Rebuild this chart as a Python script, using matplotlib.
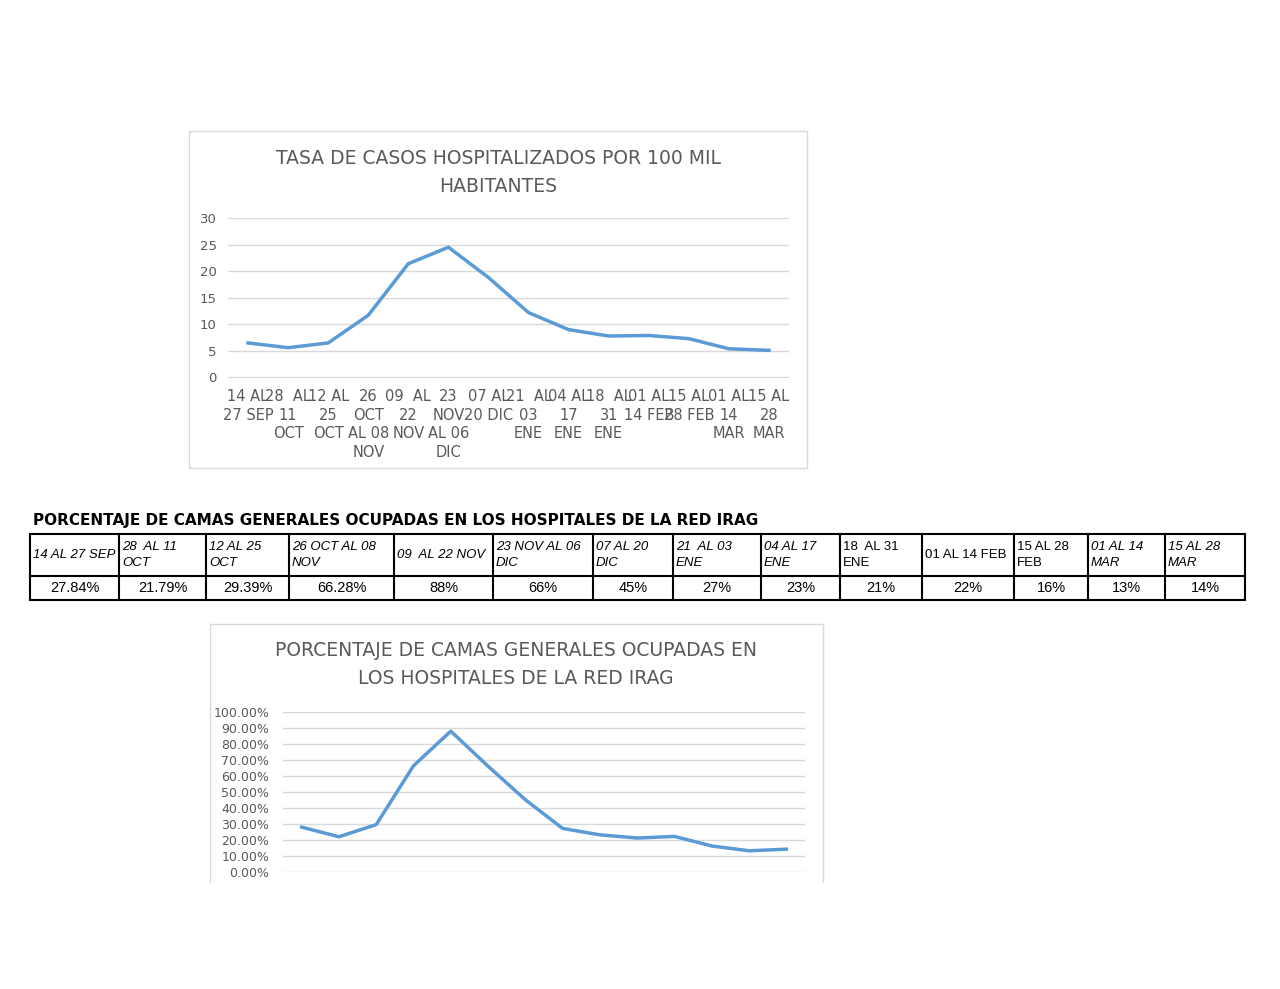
import matplotlib
matplotlib.use("Agg")
import matplotlib.pyplot as plt
from matplotlib.patches import Rectangle

# data
week_labels = ["14 AL\n27 SEP", "28  AL\n11\nOCT", "12 AL\n25\nOCT", "26\nOCT\nAL 08\nNOV",
               "09  AL\n22\nNOV", "23\nNOV\nAL 06\nDIC", "07 AL\n20 DIC", "21  AL\n03\nENE",
               "04 AL\n17\nENE", "18  AL\n31\nENE", "01 AL\n14 FEB", "15 AL\n28 FEB",
               "01 AL\n14\nMAR", "15 AL\n28\nMAR"]
tasa = [6.5, 5.6, 6.5, 11.7, 21.4, 24.5, 18.8, 12.2, 9.0, 7.8, 7.9, 7.3, 5.4, 5.1]
camas_pct = [27.84, 21.79, 29.39, 66.28, 88, 66, 45, 27, 23, 21, 22, 16, 13, 14]
table_head = ["14 AL 27 SEP", "28  AL 11\nOCT", "12 AL 25\nOCT", "26 OCT AL 08\nNOV",
              "09  AL 22 NOV", "23 NOV AL 06\nDIC", "07 AL 20\nDIC", "21  AL 03\nENE",
              "04 AL 17\nENE", "18  AL 31\nENE", "01 AL 14 FEB", "15 AL 28\nFEB",
              "01 AL 14\nMAR", "15 AL 28\nMAR"]
table_vals = ["27.84%", "21.79%", "29.39%", "66.28%", "88%", "66%", "45%",
              "27%", "23%", "21%", "22%", "16%", "13%", "14%"]
col_edges = [30, 119, 206, 289, 394, 493, 593, 673, 761, 840, 922, 1014, 1088, 1165, 1245]

LINE = "#5B9BD5"
GRID = "#D9D9D9"
TXT = "#595959"
W, H = 1280, 989

fig = plt.figure(figsize=(12.8, 9.89), dpi=100)
bg = fig.add_axes([0, 0, 1, 1])
bg.set_xlim(0, W)
bg.set_ylim(H, 0)
bg.axis("off")

# chart frames
bg.add_patch(Rectangle((189, 131), 618, 337, fill=False, ec=GRID, lw=1))
bg.plot([210, 210, 823, 823], [882, 624, 624, 882], color=GRID, lw=1)
bg.text(498, 172, "TASA DE CASOS HOSPITALIZADOS POR 100 MIL\nHABITANTES",
        ha="center", va="center", fontsize=13.5, color=TXT, linespacing=1.6)
bg.text(516, 665, "PORCENTAJE DE CAMAS GENERALES OCUPADAS EN\nLOS HOSPITALES DE LA RED IRAG",
        ha="center", va="center", fontsize=13.5, color=TXT, linespacing=1.6)

# table
bg.text(33, 521, "PORCENTAJE DE CAMAS GENERALES OCUPADAS EN LOS HOSPITALES DE LA RED IRAG",
        ha="left", va="center", fontsize=11, fontweight="bold", family="Liberation Sans Narrow")
y0, ym, y1 = 534, 576, 600
bg.add_patch(Rectangle((col_edges[0], y0), col_edges[-1] - col_edges[0], y1 - y0,
                       fill=False, ec="black", lw=1.5))
bg.plot([col_edges[0], col_edges[-1]], [ym, ym], color="black", lw=1.5)
for i, (h, v) in enumerate(zip(table_head, table_vals)):
    xa, xb = col_edges[i], col_edges[i + 1]
    if i > 0:
        bg.plot([xa, xa], [y0, y1], color="black", lw=1.5)
    italic = i not in (9, 10, 11)
    bg.text(xa + 3, (y0 + ym) / 2, h, ha="left", va="center", fontsize=9.5,
            style="italic" if italic else "normal", family="Liberation Sans", linespacing=1.35)
    bg.text((xa + xb) / 2, (ym + y1) / 2, v, ha="center", va="center", fontsize=10.5,
            family="Liberation Sans")

x = list(range(len(tasa)))

# top chart
ax1 = fig.add_axes([228 / W, 1 - 378 / H, 561 / W, 160 / H])
ax1.plot(x, tasa, color=LINE, lw=2.5)
ax1.set_xlim(-0.5, 13.5)
ax1.set_ylim(-0.1, 30)
ax1.set_yticks(range(0, 31, 5))
ax1.set_xticks(x)
ax1.set_xticklabels(week_labels, va="top", linespacing=1.3, family="Liberation Sans Narrow",
                    fontsize=10.5)
ax1.grid(axis="y", color=GRID, lw=1)
ax1.set_axisbelow(True)
for s in ax1.spines.values():
    s.set_visible(False)
ax1.tick_params(length=0, labelsize=9.5, labelcolor=TXT, pad=8)
for t in ax1.get_xticklabels():
    t.set_fontsize(10.5)

# bottom chart
ax2 = fig.add_axes([283 / W, 1 - 872 / H, 522 / W, 160 / H])
ax2.plot(x, camas_pct, color=LINE, lw=2.5)
ax2.set_xlim(-0.5, 13.5)
ax2.set_ylim(-0.3, 100)
ax2.set_yticks(range(0, 101, 10))
ax2.set_yticklabels([f"{t:.2f}%" for t in range(0, 101, 10)])
ax2.set_xticks([])
ax2.grid(axis="y", color=GRID, lw=1)
ax2.set_axisbelow(True)
for s in ax2.spines.values():
    s.set_visible(False)
ax2.tick_params(length=0, labelsize=9, labelcolor=TXT, pad=10)

fig.savefig("out.png", dpi=100)
